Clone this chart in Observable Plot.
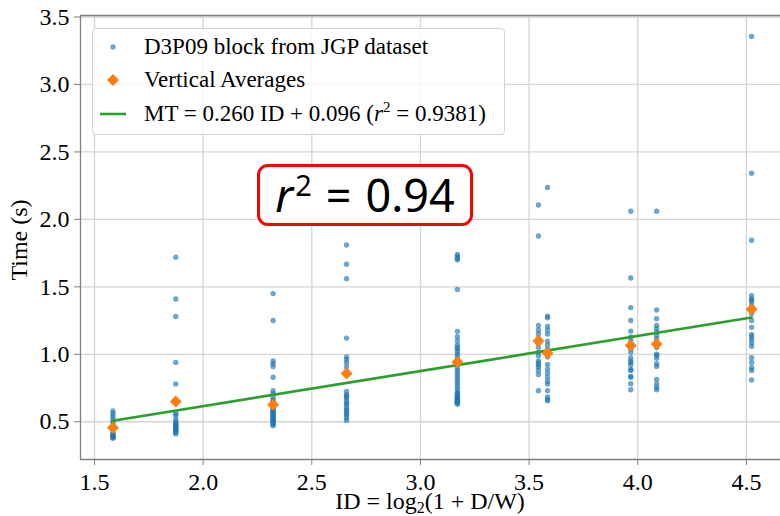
<!DOCTYPE html>
<html>
<head>
<meta charset="utf-8">
<script src="https://cdn.jsdelivr.net/npm/d3@7"></script>
<script src="https://cdn.jsdelivr.net/npm/@observablehq/plot@0.6"></script>
<style>
  body { margin: 0; background: #fff; }
  #chart { position: relative; width: 780px; height: 516px; overflow: hidden;
           font-family: "Liberation Serif", "DejaVu Serif", serif; color: #000; }
  #chart svg { display: block; }
  .ylabel { position: absolute; left: 19px; top: 240px; font-size: 24px; white-space: nowrap;
            transform: translate(-50%, -50%) rotate(-90deg); }
  .xlabel { position: absolute; left: 80px; width: 700px; top: 489px; height: 24px; line-height: 24px;
            text-align: center; font-size: 24px; white-space: nowrap; }
  .xlabel sub { font-size: 16px; vertical-align: -4px; line-height: 0; }
  .legend { position: absolute; left: 92px; top: 28px; width: 413px; height: 107px;
            box-sizing: border-box; background: rgba(255,255,255,0.8);
            border: 1px solid #d3d3d3; border-radius: 4px; }
  .row { position: absolute; left: 0; width: 100%; height: 30px; line-height: 30px;
         font-size: 23px; white-space: nowrap; }
  .row svg { position: absolute; left: 0; top: 0; }
  .row span { position: absolute; left: 51px; top: 0; }
  .row sup { font-size: 15px; line-height: 0; vertical-align: 9px; }
  .note { position: absolute; left: 257px; top: 164px; width: 216px; height: 62px;
          box-sizing: border-box; border: 3.5px solid #f00; border-radius: 11px; background: #fff;
          display: flex; align-items: center; justify-content: center;
          font-family: "Noto Sans", sans-serif; font-size: 45px; white-space: nowrap; }
  .note .txt { line-height: 50px; }
  .note i { font-style: italic; }
  .note sup { font-size: 29px; line-height: 0; vertical-align: 16px; margin-left: 2px; }
  .note .eq { margin: 0 14px 0 14px; }
</style>
</head>
<body>
<div id="chart"></div>
<script>
// Index of difficulty for each target condition (bits)
const ids = [1.585, 1.874, 2.322, 2.660, 3.170, 3.543, 3.585, 3.968, 4.087, 4.524];

// Movement times (s) of the individual trials, one list per ID
const trialTimes = [
  [0.58, 0.56, 0.54, 0.52, 0.50, 0.48, 0.44, 0.42, 0.41, 0.40, 0.39, 0.39, 0.38, 0.38],
  [1.72, 1.41, 1.28, 0.94, 0.78, 0.56, 0.55, 0.52, 0.50, 0.49, 0.48, 0.47, 0.47, 0.46, 0.45, 0.45, 0.44, 0.44, 0.43, 0.42, 0.41],
  [1.45, 1.25, 0.95, 0.93, 0.91, 0.83, 0.73, 0.71, 0.68, 0.66, 0.65, 0.64, 0.63, 0.62, 0.61, 0.60, 0.59, 0.58, 0.58,
   0.57, 0.56, 0.55, 0.55, 0.54, 0.53, 0.52, 0.52, 0.51, 0.50, 0.50, 0.49, 0.48, 0.47],
  [1.81, 1.667, 1.56, 1.12, 0.98, 0.96, 0.935, 0.905, 0.725, 0.70, 0.69, 0.68, 0.66, 0.64, 0.63, 0.61, 0.59, 0.58, 0.56, 0.55, 0.53, 0.51],
  [1.74, 1.725, 1.71, 1.70, 1.48, 1.17, 1.13, 1.10, 1.07, 1.05, 1.04, 1.02, 1.00, 0.98, 0.96, 0.94, 0.92, 0.90, 0.88, 0.86,
   0.84, 0.82, 0.80, 0.78, 0.76, 0.74, 0.72, 0.71, 0.70, 0.69, 0.68, 0.67, 0.67, 0.66, 0.66, 0.65, 0.65, 0.64, 0.64, 0.63],
  [2.107, 1.877, 1.214, 1.18, 1.153, 1.12, 1.09, 1.053, 1.016, 0.99, 0.95, 0.935, 0.92, 0.905, 0.88, 0.85, 0.73],
  [2.236, 1.283, 1.27, 1.207, 1.18, 1.15, 1.098, 1.07, 1.04, 1.02, 0.98, 0.925, 0.89, 0.86, 0.83, 0.80, 0.78, 0.73, 0.683, 0.665, 0.655],
  [2.06, 1.565, 1.346, 1.25, 1.172, 1.128, 1.10, 1.07, 1.04, 1.016, 0.975, 0.95, 0.94, 0.92, 0.888, 0.88, 0.836, 0.83, 0.782, 0.737],
  [2.06, 1.328, 1.264, 1.214, 1.19, 1.165, 1.14, 1.115, 1.09, 1.05, 1.00, 0.992, 0.97, 0.93, 0.91, 0.814, 0.78, 0.755, 0.737],
  [3.356, 2.342, 1.845, 1.435, 1.41, 1.40, 1.385, 1.36, 1.33, 1.30, 1.25, 1.20, 1.148, 1.13, 1.11, 1.085, 1.06, 0.975, 0.94, 0.90, 0.88, 0.81]
];

// Mean movement time at each ID (s)
const averageTimes = [0.455, 0.650, 0.626, 0.858, 0.942, 1.098, 1.009, 1.066, 1.076, 1.333];

// Linear fit MT = a ID + b
const fitSlope = 0.260;
const fitIntercept = 0.096;
const fitR2 = 0.9381;

const xTicks = [1.5, 2.0, 2.5, 3.0, 3.5, 4.0, 4.5];
const yTicks = [0.5, 1.0, 1.5, 2.0, 2.5, 3.0, 3.5];

const xDomain = [1.4356, 4.657];
const yDomain = [0.2203, 3.511];

const trials = ids.flatMap((id, i) => trialTimes[i].map(t => ({id, t})));
const averages = ids.map((id, i) => ({id, t: averageTimes[i]}));
const idRange = d3.extent(ids);
const fitLine = idRange.map(id => ({id, t: fitSlope * id + fitIntercept}));

const spine = "#808080";

const plot = Plot.plot({
  width: 780,
  height: 516,
  marginLeft: 80,
  marginTop: 15,
  marginRight: 0,
  marginBottom: 57,
  x: {domain: xDomain},
  y: {domain: yDomain},
  style: {fontFamily: '"Liberation Serif", "DejaVu Serif", serif', fontSize: "24px", color: "#000", background: "#fff"},
  marks: [
    Plot.gridX(xTicks, {stroke: "#d4d4d4", strokeOpacity: 1, strokeWidth: 1.3}),
    Plot.gridY(yTicks, {stroke: "#d4d4d4", strokeOpacity: 1, strokeWidth: 1.3}),
    Plot.dot(trials, {x: "id", y: "t", r: 2.7, fill: "#1f77b4", fillOpacity: 0.65}),
    Plot.line(fitLine, {x: "id", y: "t", stroke: "#2ca02c", strokeWidth: 2.6}),
    Plot.dot(averages, {x: "id", y: "t", symbol: "diamond2", r: 5.4, fill: "#ff7f0e"}),
    Plot.ruleX([xDomain[0]], {stroke: spine, strokeWidth: 1.3}),
    Plot.ruleY(yDomain, {stroke: spine, strokeWidth: 1.3}),
    Plot.axisX(xTicks, {tickSize: 6, tickPadding: 7, tickFormat: d => d.toFixed(1), label: null, stroke: spine, fill: "#000", fontSize: 24}),
    Plot.axisY(yTicks, {tickSize: 6, tickPadding: 5, tickFormat: d => d.toFixed(1), label: null, stroke: spine, fill: "#000", fontSize: 24})
  ]
});

const chart = document.getElementById("chart");
chart.appendChild(plot);

// Axis titles
const yLabel = document.createElement("div");
yLabel.className = "ylabel";
yLabel.textContent = "Time (s)";
chart.appendChild(yLabel);

const xLabel = document.createElement("div");
xLabel.className = "xlabel";
xLabel.innerHTML = "ID = log<sub>2</sub>(1 + D/W)";
chart.appendChild(xLabel);

// Legend
const legend = document.createElement("div");
legend.className = "legend";
const rows = [
  {top: 3, swatch: '<circle cx="20" cy="15" r="2.7" fill="#1f77b4" fill-opacity="0.65"/>',
   text: "D3P09 block from JGP dataset"},
  {top: 36, swatch: '<path d="M20,9 L26,15 L20,21 L14,15 Z" fill="#ff7f0e"/>',
   text: "Vertical Averages"},
  {top: 70, swatch: '<line x1="7" y1="15" x2="33" y2="15" stroke="#2ca02c" stroke-width="2.6"/>',
   text: `MT = ${fitSlope.toFixed(3)} ID + ${fitIntercept.toFixed(3)} (<i>r</i><sup>2</sup> = ${fitR2.toFixed(4)})`}
];
for (const r of rows) {
  const row = document.createElement("div");
  row.className = "row";
  row.style.top = r.top + "px";
  row.innerHTML = `<svg width="40" height="30">${r.swatch}</svg><span>${r.text}</span>`;
  legend.appendChild(row);
}
chart.appendChild(legend);

// Highlighted coefficient of determination
const note = document.createElement("div");
note.className = "note";
note.innerHTML = `<span class="txt"><i>r</i><sup>2</sup><span class="eq">=</span>${fitR2.toFixed(2)}</span>`;
chart.appendChild(note);
</script>
</body>
</html>
